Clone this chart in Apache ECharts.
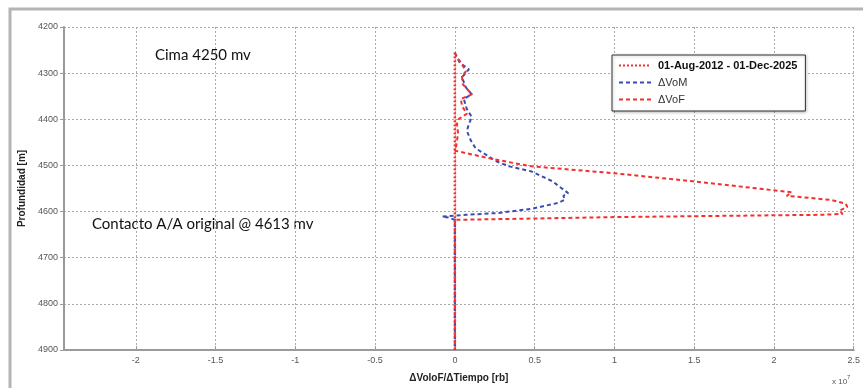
<!DOCTYPE html>
<html>
<head>
<meta charset="utf-8">
<script src="https://cdn.jsdelivr.net/npm/echarts@6/dist/echarts.min.js"></script>
<style>
  html, body { margin: 0; padding: 0; background: #fff; }
  #chart { width: 863px; height: 388px; }
</style>
</head>
<body>
<div id="chart"></div>
<script>
// Depth profile of volume change rate (x 10^7), depths in metres
const seriesNames = ['01-Aug-2012 - 01-Dec-2025', '\u0394VoM', '\u0394VoF'];

// Zero reference line for the period
const periodDepth = [4255, 4900];
const periodValue = [0, 0];

// ΔVoM profile
const vomDepth = [4256, 4277, 4292, 4309, 4331, 4346, 4356, 4378, 4395, 4410, 4425, 4446, 4463, 4480, 4491, 4502, 4513, 4534, 4560, 4566, 4574, 4581, 4594, 4603, 4607, 4611, 4613, 4618, 4900];
const vomValue = [0, 0.03, 0.088, 0.044, 0.069, 0.106, 0.056, 0.075, 0.106, 0.088, 0.075, 0.1, 0.13, 0.21, 0.26, 0.34, 0.48, 0.61, 0.71, 0.68, 0.69, 0.65, 0.48, 0.275, 0.07, -0.08, -0.04, 0, 0];

// ΔVoF profile
const vofDepth = [4256, 4266, 4277, 4288, 4296, 4307, 4324, 4346, 4356, 4371, 4388, 4399, 4410, 4431, 4463, 4468, 4487, 4502, 4517, 4534, 4558, 4566, 4568, 4575, 4583, 4590, 4598, 4605, 4607, 4609, 4612, 4615, 4618, 4900];
const vofValue = [0, 0.013, 0.038, 0.056, 0.069, 0.044, 0.05, 0.106, 0.038, 0.044, 0.075, 0.025, 0.013, 0.02, 0.006, 0, 0.25, 0.48, 1.0, 1.48, 2.11, 2.08, 2.15, 2.36, 2.45, 2.46, 2.41, 2.43, 2.3, 1.75, 1.0, 0.5, 0, 0];

const xTickLabels = ['-2', '-1.5', '-1', '-0.5', '0', '0.5', '1', '1.5', '2', '2.5'];
const yTickLabels = ['4200', '4300', '4400', '4500', '4600', '4700', '4800', '4900'];

const pairs = (xs, ys) => xs.map((v, i) => [v, ys[i]]);

const RED = '#f2302e';
const BLUE = '#3b4db3';
const GRID = '#a8a8a8';
const AXIS = '#9a9a9a';

const chart = echarts.init(document.getElementById('chart'), null, { renderer: 'canvas' });

chart.setOption({
  animation: false,
  backgroundColor: '#fff',
  grid: { left: 64, right: 6, top: 27, bottom: 34, containLabel: false },
  graphic: [
    {
      type: 'rect',
      shape: { x: 10, y: 9, width: 870, height: 420 },
      style: { fill: 'none', stroke: '#b4b4b4', lineWidth: 3 },
      silent: true, z: -1
    },
    {
      type: 'text', left: 155, top: 48,
      style: { text: 'Cima 4250 mv', font: '15px Lato, "Open Sans", sans-serif', fill: '#111' }
    },
    {
      type: 'text', left: 92, top: 217,
      style: { text: 'Contacto A/A original @ 4613 mv', font: '15px Lato, "Open Sans", sans-serif', fill: '#111' }
    },
    {
      type: 'text', left: 832, top: 374,
      style: {
        text: '{b|x 10}{s|7}',
        rich: {
          b: { font: '8px "Liberation Sans", Arial, sans-serif', fill: '#555', padding: [4, 0, 0, 0] },
          s: { font: '6px "Liberation Sans", Arial, sans-serif', fill: '#555', verticalAlign: 'top', padding: [0, 0, 4, 0] }
        }
      }
    }
  ],
  legend: {
    show: true,
    orient: 'vertical',
    left: 612,
    top: 55,
    width: 190,
    padding: [5, 8, 6, 6],
    itemGap: 6,
    itemWidth: 32,
    itemHeight: 11,
    backgroundColor: '#fff',
    borderColor: '#333',
    borderWidth: 1,
    shadowColor: 'rgba(0,0,0,0.25)',
    shadowBlur: 3,
    shadowOffsetX: 1,
    shadowOffsetY: 1,
    itemStyle: { opacity: 0 },
    data: seriesNames.map((n, i) => ({
      name: n,
      textStyle: i === 0
        ? { fontWeight: 'bold', fontSize: 11, color: '#111', fontFamily: '"Liberation Sans", Arial, sans-serif', padding: [0, 0, 0, 2] }
        : { fontSize: 11, color: '#333', fontFamily: '"Liberation Sans", Arial, sans-serif', padding: [0, 0, 0, 2] }
    }))
  },
  xAxis: {
    type: 'value',
    min: -2.45,
    max: 2.5,
    splitNumber: 10,
    name: '\u0394VoloF/\u0394Tiempo [rb]',
    nameLocation: 'middle',
    nameGap: 23,
    nameTextStyle: { fontWeight: 'bold', fontSize: 10, color: '#222', fontFamily: '"Liberation Sans", Arial, sans-serif' },
    axisLine: { show: true, onZero: false, lineStyle: { color: AXIS, width: 2 } },
    axisTick: { show: true, inside: true, length: 4, lineStyle: { color: AXIS } },
    axisLabel: {
      showMinLabel: false,
      fontSize: 9, color: '#555', margin: 6,
      fontFamily: '"Liberation Sans", Arial, sans-serif',
      formatter: v => {
        const s = String(Math.round(v * 10) / 10);
        return xTickLabels.indexOf(s) >= 0 ? s : '';
      }
    },
    splitLine: { show: true, lineStyle: { color: GRID, type: [2, 2], width: 1 } }
  },
  yAxis: {
    type: 'value',
    inverse: true,
    min: 4200,
    max: 4900,
    interval: 100,
    name: 'Profundidad [m]',
    nameLocation: 'middle',
    nameGap: 34,
    nameRotate: 90,
    nameTextStyle: { fontWeight: 'bold', fontSize: 10, color: '#222', fontFamily: '"Liberation Sans", Arial, sans-serif' },
    axisLine: { show: true, onZero: false, lineStyle: { color: AXIS, width: 2 } },
    axisTick: { show: true, inside: false, length: 4, lineStyle: { color: AXIS } },
    axisLabel: {
      fontSize: 9, color: '#555', margin: 6,
      fontFamily: '"Liberation Sans", Arial, sans-serif',
      formatter: v => (yTickLabels.indexOf(String(v)) >= 0 ? String(v) : '')
    },
    splitLine: { show: true, lineStyle: { color: GRID, type: [2, 2], width: 1 } }
  },
  series: [
    {
      name: seriesNames[0],
      type: 'line',
      symbol: 'none',
      data: pairs(periodValue, periodDepth),
      lineStyle: { color: RED, width: 2.5, type: [2, 2] },
      itemStyle: { color: RED },
      z: 3
    },
    {
      name: seriesNames[1],
      type: 'line',
      symbol: 'none',
      data: pairs(vomValue, vomDepth),
      lineStyle: { color: BLUE, width: 2, type: [4, 3] },
      itemStyle: { color: BLUE },
      z: 4
    },
    {
      name: seriesNames[2],
      type: 'line',
      symbol: 'none',
      data: pairs(vofValue, vofDepth),
      lineStyle: { color: RED, width: 2, type: [4, 3] },
      itemStyle: { color: RED },
      z: 5
    }
  ]
});
</script>
</body>
</html>
